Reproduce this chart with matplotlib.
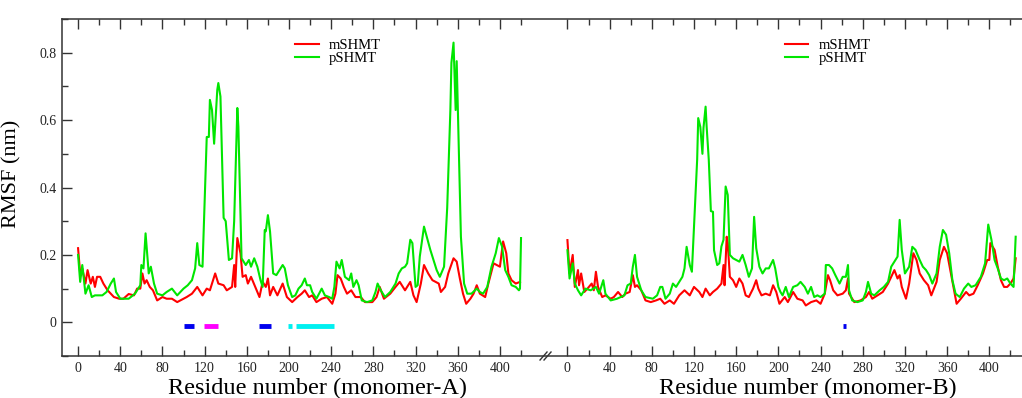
import matplotlib.pyplot as plt
from matplotlib.ticker import FixedLocator

# RMSF (nm) per residue
# monomer-A
res_a_m = [0, 2, 4, 7, 9, 12, 14, 16, 18, 21, 24, 28, 31, 34, 39, 43, 48, 53, 56, 59,
           61, 63, 65, 68, 71, 75, 80, 84, 89, 94, 103, 108, 113, 118, 122, 125, 130, 133, 138, 141,
           146, 148, 149, 151, 154, 156, 159, 161, 164, 168, 172, 175, 178, 180, 182, 185, 189, 194, 198, 203,
           208, 212, 215, 219, 222, 226, 231, 236, 241, 244, 246, 249, 252, 255, 259, 263, 268, 272, 279, 283,
           286, 290, 296, 301, 305, 310, 312, 315, 318, 321, 325, 328, 332, 336, 339, 342, 344, 348, 351, 356,
           359, 362, 365, 368, 372, 375, 378, 381, 386, 389, 394, 400, 403, 406, 408, 411, 415, 419]
rmsf_a_m = [0.22, 0.145, 0.16, 0.115, 0.155, 0.115, 0.135, 0.105, 0.135, 0.135, 0.115, 0.095, 0.085, 0.075, 0.07, 0.07, 0.084, 0.08, 0.1, 0.1,
            0.145, 0.115, 0.125, 0.105, 0.095, 0.065, 0.075, 0.07, 0.07, 0.06, 0.075, 0.085, 0.105, 0.08, 0.1, 0.095, 0.145, 0.115, 0.11, 0.095,
            0.105, 0.17, 0.105, 0.25, 0.205, 0.135, 0.14, 0.115, 0.135, 0.105, 0.075, 0.12, 0.105, 0.13, 0.08, 0.105, 0.08, 0.115, 0.075, 0.06,
            0.075, 0.085, 0.095, 0.075, 0.08, 0.06, 0.07, 0.075, 0.055, 0.085, 0.14, 0.13, 0.105, 0.085, 0.095, 0.075, 0.075, 0.06, 0.06, 0.075,
            0.105, 0.07, 0.085, 0.105, 0.12, 0.095, 0.105, 0.12, 0.08, 0.06, 0.115, 0.17, 0.145, 0.125, 0.12, 0.115, 0.09, 0.105, 0.145, 0.19,
            0.18, 0.13, 0.085, 0.055, 0.07, 0.085, 0.11, 0.085, 0.075, 0.115, 0.175, 0.165, 0.24, 0.205, 0.145, 0.125, 0.115, 0.12]

res_a_p = [0, 2, 4, 7, 10, 13, 16, 23, 27, 31, 34, 36, 40, 48, 54, 59, 60, 62, 64, 65,
           67, 69, 72, 75, 80, 84, 89, 94, 97, 100, 104, 108, 111, 113, 115, 118, 122, 124, 125, 127,
           129, 132, 133, 135, 138, 140, 143, 146, 148, 151, 152, 155, 159, 162, 164, 167, 170, 173, 175, 177,
           178, 180, 182, 185, 188, 190, 194, 196, 199, 203, 206, 209, 212, 215, 217, 220, 222, 226, 231, 234,
           238, 241, 243, 245, 248, 250, 253, 257, 259, 261, 264, 266, 269, 274, 279, 282, 284, 287, 291, 296,
           301, 304, 307, 310, 312, 315, 317, 320, 322, 324, 328, 331, 334, 337, 340, 343, 347, 350, 353, 354,
           356, 358, 359, 361, 363, 366, 369, 373, 378, 381, 384, 388, 392, 396, 399, 402, 405, 408, 411, 415,
           418, 419, 420]
rmsf_a_p = [0.20, 0.12, 0.17, 0.085, 0.11, 0.075, 0.08, 0.08, 0.09, 0.115, 0.13, 0.09, 0.07, 0.07, 0.085, 0.11, 0.17, 0.16, 0.264, 0.225,
            0.145, 0.165, 0.115, 0.085, 0.08, 0.09, 0.1, 0.08, 0.09, 0.1, 0.11, 0.125, 0.16, 0.235, 0.17, 0.165, 0.55, 0.55, 0.66, 0.63,
            0.53, 0.69, 0.71, 0.67, 0.31, 0.30, 0.185, 0.19, 0.30, 0.636, 0.58, 0.19, 0.17, 0.185, 0.165, 0.19, 0.165, 0.125, 0.105, 0.274,
            0.27, 0.318, 0.27, 0.145, 0.14, 0.15, 0.17, 0.16, 0.11, 0.075, 0.08, 0.1, 0.11, 0.13, 0.11, 0.11, 0.09, 0.07, 0.1, 0.08,
            0.075, 0.07, 0.105, 0.18, 0.16, 0.185, 0.135, 0.125, 0.145, 0.105, 0.125, 0.11, 0.065, 0.06, 0.065, 0.09, 0.115, 0.095, 0.075, 0.09,
            0.115, 0.145, 0.16, 0.165, 0.175, 0.245, 0.235, 0.105, 0.11, 0.195, 0.284, 0.25, 0.215, 0.185, 0.155, 0.135, 0.165, 0.34, 0.63, 0.77,
            0.83, 0.63, 0.775, 0.52, 0.254, 0.115, 0.085, 0.085, 0.1, 0.09, 0.085, 0.105, 0.165, 0.205, 0.25, 0.225, 0.155, 0.135, 0.11, 0.105,
            0.095, 0.1, 0.25]

# monomer-B
res_b_m = [0, 2, 5, 7, 10, 11, 13, 16, 19, 23, 25, 27, 29, 33, 36, 41, 44, 48, 52, 55,
           59, 62, 64, 66, 70, 74, 79, 84, 88, 92, 97, 101, 106, 111, 116, 120, 125, 128, 131, 135,
           138, 142, 146, 148, 149, 151, 152, 154, 157, 160, 163, 166, 169, 172, 176, 179, 181, 184, 188, 192,
           195, 198, 201, 206, 209, 214, 218, 223, 226, 231, 236, 240, 244, 247, 249, 252, 256, 261, 264, 266,
           267, 272, 278, 283, 286, 289, 294, 299, 304, 307, 310, 313, 315, 317, 321, 324, 328, 331, 334, 338,
           342, 345, 350, 353, 357, 360, 363, 366, 369, 373, 378, 381, 385, 389, 394, 398, 400, 401, 405, 408,
           411, 414, 417, 420, 423, 425]
rmsf_b_m = [0.244, 0.145, 0.2, 0.105, 0.155, 0.11, 0.145, 0.09, 0.1, 0.115, 0.095, 0.15, 0.105, 0.075, 0.08, 0.07, 0.075, 0.09, 0.075, 0.085,
            0.09, 0.14, 0.105, 0.11, 0.095, 0.065, 0.06, 0.065, 0.07, 0.055, 0.065, 0.055, 0.08, 0.095, 0.08, 0.105, 0.09, 0.075, 0.1, 0.08,
            0.09, 0.1, 0.115, 0.17, 0.11, 0.254, 0.235, 0.135, 0.125, 0.105, 0.13, 0.115, 0.08, 0.075, 0.1, 0.125, 0.1, 0.08, 0.085, 0.08,
            0.11, 0.09, 0.055, 0.075, 0.06, 0.09, 0.07, 0.065, 0.05, 0.06, 0.065, 0.055, 0.085, 0.14, 0.125, 0.095, 0.08, 0.085, 0.095, 0.13,
            0.085, 0.06, 0.065, 0.075, 0.09, 0.07, 0.08, 0.09, 0.115, 0.135, 0.155, 0.13, 0.14, 0.105, 0.07, 0.115, 0.205, 0.185, 0.145, 0.125,
            0.11, 0.08, 0.12, 0.185, 0.224, 0.205, 0.155, 0.105, 0.055, 0.07, 0.09, 0.08, 0.085, 0.11, 0.145, 0.185, 0.185, 0.235, 0.215, 0.165,
            0.125, 0.105, 0.105, 0.115, 0.13, 0.19]

res_b_p = [0, 2, 5, 7, 10, 13, 17, 22, 27, 30, 34, 36, 41, 47, 54, 57, 60, 62, 64, 66,
           70, 74, 81, 85, 88, 90, 93, 97, 100, 103, 106, 109, 111, 113, 116, 118, 120, 123, 124, 126,
           128, 129, 131, 132, 134, 136, 138, 139, 142, 144, 146, 148, 150, 152, 154, 157, 160, 163, 166, 169,
           172, 175, 177, 179, 182, 185, 188, 191, 195, 197, 200, 202, 204, 207, 210, 214, 218, 221, 225, 228,
           231, 234, 237, 240, 244, 245, 248, 251, 254, 258, 261, 264, 266, 267, 270, 275, 280, 283, 285, 288,
           291, 296, 300, 304, 307, 310, 313, 315, 317, 320, 324, 327, 330, 334, 337, 340, 343, 346, 350, 353,
           356, 359, 362, 365, 368, 372, 376, 380, 383, 387, 392, 396, 399, 402, 405, 408, 411, 414, 417, 420,
           423, 425]
rmsf_b_p = [0.214, 0.13, 0.175, 0.115, 0.095, 0.08, 0.1, 0.095, 0.105, 0.085, 0.125, 0.085, 0.065, 0.07, 0.08, 0.11, 0.115, 0.165, 0.2, 0.135,
            0.095, 0.075, 0.07, 0.08, 0.105, 0.105, 0.07, 0.085, 0.115, 0.105, 0.12, 0.135, 0.16, 0.224, 0.17, 0.15, 0.284, 0.483, 0.606, 0.58,
            0.5, 0.577, 0.64, 0.58, 0.483, 0.33, 0.328, 0.214, 0.17, 0.175, 0.225, 0.245, 0.403, 0.378, 0.2, 0.19, 0.185, 0.18, 0.2, 0.17,
            0.135, 0.16, 0.313, 0.22, 0.165, 0.145, 0.16, 0.16, 0.185, 0.16, 0.105, 0.09, 0.08, 0.105, 0.075, 0.105, 0.11, 0.12, 0.105, 0.085,
            0.105, 0.075, 0.08, 0.075, 0.085, 0.17, 0.17, 0.16, 0.14, 0.115, 0.135, 0.135, 0.17, 0.095, 0.065, 0.06, 0.065, 0.09, 0.12, 0.085,
            0.08, 0.095, 0.105, 0.12, 0.165, 0.18, 0.195, 0.304, 0.215, 0.145, 0.165, 0.224, 0.215, 0.185, 0.165, 0.155, 0.14, 0.115, 0.145, 0.224,
            0.274, 0.26, 0.205, 0.125, 0.085, 0.075, 0.1, 0.115, 0.105, 0.11, 0.135, 0.175, 0.29, 0.245, 0.185, 0.16, 0.13, 0.125, 0.13, 0.115,
            0.105, 0.254]

# coloured segments drawn just under zero (residue ranges)
seg_a_start = [100, 119, 172, 199, 207]
seg_a_end = [110, 133, 183, 203, 243]
seg_a_color = ["#0000ee", "#ff00ff", "#0000ee", "#00f0f0", "#00f0f0"]
seg_b_start = [261]
seg_b_end = [264]
seg_b_color = ["#0000ee"]

b_offset = 464  # monomer-B sits right of A on the same axis
tick_vals = list(range(0, 401, 40))
minor_vals = list(range(20, 421, 40))

red = "#ff0000"
green = "#00e600"
serif = "Liberation Serif"

fig = plt.figure(figsize=(10.22, 3.98), dpi=100)
ax = fig.add_axes([0.0607, 0.1055, 0.9393, 0.8467])

ax.plot(res_a_m, rmsf_a_m, color=red, lw=1.5, label="mSHMT")
ax.plot(res_a_p, rmsf_a_p, color=green, lw=1.5, label="pSHMT")
ax.plot([r + b_offset for r in res_b_m], rmsf_b_m, color=red, lw=1.5)
ax.plot([r + b_offset for r in res_b_p], rmsf_b_p, color=green, lw=1.5)

ax.hlines([-0.012] * len(seg_a_start), seg_a_start, seg_a_end, colors=seg_a_color, lw=3.5)
ax.hlines([-0.012] * len(seg_b_start), [s + b_offset for s in seg_b_start],
          [e + b_offset for e in seg_b_end], colors=seg_b_color, lw=3.5)

ax.set_xlim(-15.2, 895)
ax.set_ylim(-0.1, 0.9)

ax.set_xticks(tick_vals + [t + b_offset for t in tick_vals])
ax.set_xticklabels([str(t) for t in tick_vals] * 2)
ax.xaxis.set_minor_locator(FixedLocator(minor_vals + [t + b_offset for t in minor_vals]))
ax.set_yticks([0, 0.2, 0.4, 0.6, 0.8])
ax.set_yticklabels(["0", "0.2", "0.4", "0.6", "0.8"])
ax.yaxis.set_minor_locator(FixedLocator([-0.1, 0.1, 0.3, 0.5, 0.7, 0.9]))

ax.tick_params(which="both", direction="in", top=True, right=False, width=1.0, color="#333333")
ax.tick_params(which="major", length=7, labelsize=10, pad=4)
ax.tick_params(which="minor", length=4)
for lab in ax.get_xticklabels() + ax.get_yticklabels():
    lab.set_family(serif)
    lab.set_color("#222222")

for side in ["left", "bottom", "top"]:
    ax.spines[side].set_linewidth(1.1)
    ax.spines[side].set_color("#333333")
ax.spines["right"].set_visible(False)

# axis break marks
for dx in [0, 4]:
    ax.plot([(540 + dx - 62) / 960, (547 + dx - 62) / 960], [-4 / 337, 4 / 337],
            transform=ax.transAxes, color="#333333", lw=1.0, clip_on=False)

ax.set_ylabel("RMSF (nm)", family=serif, fontsize=16)
ax.yaxis.set_label_coords(-0.042, 0.54)
fig.text(317 / 1022, 1 - 388 / 398, "Residue number (monomer-A)", family=serif,
         fontsize=17.5, ha="center", va="center")
fig.text(808 / 1022, 1 - 388 / 398, "Residue number (monomer-B)", family=serif,
         fontsize=17.5, ha="center", va="center")

leg_a = ax.legend(loc="upper left", bbox_to_anchor=(0.243, 0.94), frameon=False,
                  borderpad=0, borderaxespad=0, handlelength=1.6, handletextpad=0.7,
                  labelspacing=-0.05, prop={"family": serif, "size": 10.5})
ax.add_artist(leg_a)
ax.legend(ax.get_lines()[:2], ["mSHMT", "pSHMT"], loc="upper left",
          bbox_to_anchor=(0.753, 0.94), frameon=False, borderpad=0, borderaxespad=0,
          handlelength=1.6, handletextpad=0.7, labelspacing=-0.05,
          prop={"family": serif, "size": 10.5})

fig.savefig("out.png", dpi=100)
